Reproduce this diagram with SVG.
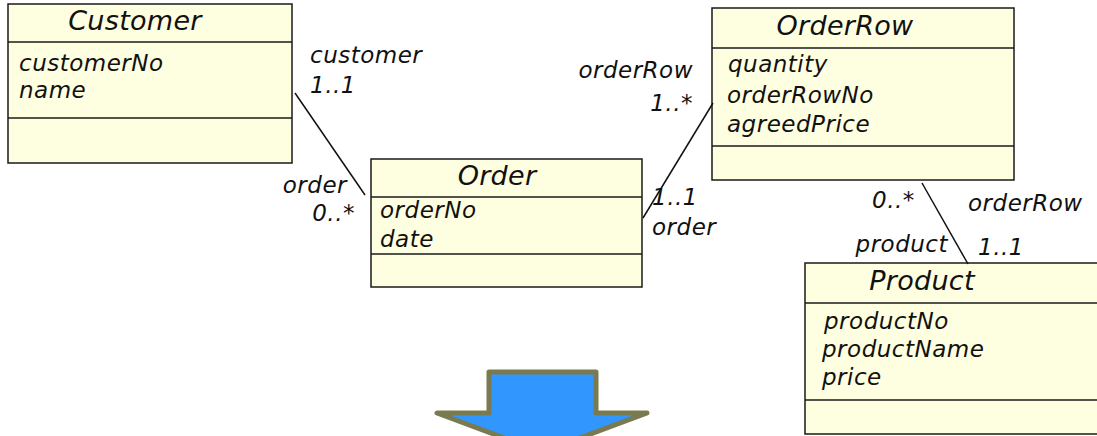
<svg xmlns="http://www.w3.org/2000/svg" width="1097" height="436" viewBox="0 0 1097 436">
<style>
.box{fill:#fefee0;stroke:#1a1a1a;stroke-width:1.5}
.div{stroke:#1a1a1a;stroke-width:1.5}
text{font-family:"DejaVu Sans","Verdana",sans-serif;font-style:italic;fill:#111}
.t{font-size:27px;letter-spacing:0.3px;text-anchor:middle}
.a{font-size:23px;letter-spacing:0.5px}
.l{font-size:23px;letter-spacing:0.5px}
.c{stroke:#111;stroke-width:1.5;fill:none}
</style>
<rect width="1097" height="436" fill="#ffffff"/>
<g id="customer">
<rect class="box" x="8" y="4" width="284" height="159"/>
<line class="div" x1="8" y1="42" x2="292" y2="42"/>
<line class="div" x1="8" y1="118" x2="292" y2="118"/>
<text class="t" x="135" y="30">Customer</text>
<text class="a" x="19" y="71">customerNo</text>
<text class="a" x="19" y="98">name</text>
</g>
<g id="order">
<rect class="box" x="371" y="159" width="271" height="128"/>
<line class="div" x1="371" y1="197" x2="642" y2="197"/>
<line class="div" x1="371" y1="254" x2="642" y2="254"/>
<text class="t" x="497" y="185">Order</text>
<text class="a" x="380" y="218">orderNo</text>
<text class="a" x="380" y="247">date</text>
</g>
<g id="orderrow">
<rect class="box" x="712" y="8" width="302" height="172"/>
<line class="div" x1="712" y1="48" x2="1014" y2="48"/>
<line class="div" x1="712" y1="146" x2="1014" y2="146"/>
<text class="t" x="845" y="35">OrderRow</text>
<text class="a" x="728" y="72">quantity</text>
<text class="a" x="727" y="103">orderRowNo</text>
<text class="a" x="727" y="132">agreedPrice</text>
</g>
<g id="product">
<rect class="box" x="805" y="263" width="300" height="171"/>
<line class="div" x1="805" y1="303" x2="1097" y2="303"/>
<line class="div" x1="805" y1="400" x2="1097" y2="400"/>
<text class="t" x="922" y="290">Product</text>
<text class="a" x="824" y="329">productNo</text>
<text class="a" x="822" y="357">productName</text>
<text class="a" x="822" y="385">price</text>
</g>
<g id="connectors">
<line class="c" x1="295" y1="93" x2="365" y2="195"/>
<line class="c" x1="643" y1="218" x2="713" y2="103"/>
<line class="c" x1="922" y1="183" x2="968" y2="264"/>
</g>
<g id="labels">
<text class="l" x="310" y="63">customer</text>
<text class="l" x="310" y="93">1..1</text>
<text class="l" x="347" y="193" text-anchor="end">order</text>
<text class="l" x="355" y="221" text-anchor="end">0..*</text>
<text class="l" x="693" y="78" text-anchor="end">orderRow</text>
<text class="l" x="693" y="111" text-anchor="end">1..*</text>
<text class="l" x="652" y="205">1..1</text>
<text class="l" x="652" y="235">order</text>
<text class="l" x="872" y="208">0..*</text>
<text class="l" x="968" y="211">orderRow</text>
<text class="l" x="948" y="252" text-anchor="end">product</text>
<text class="l" x="978" y="255">1..1</text>
</g>
<g id="arrow">
<polygon points="489,372 596,372 596,413 647,413 542,452 437,413 489,413" fill="#3296ff" stroke="#7a7a50" stroke-width="5" stroke-linejoin="round"/>
</g>
</svg>
